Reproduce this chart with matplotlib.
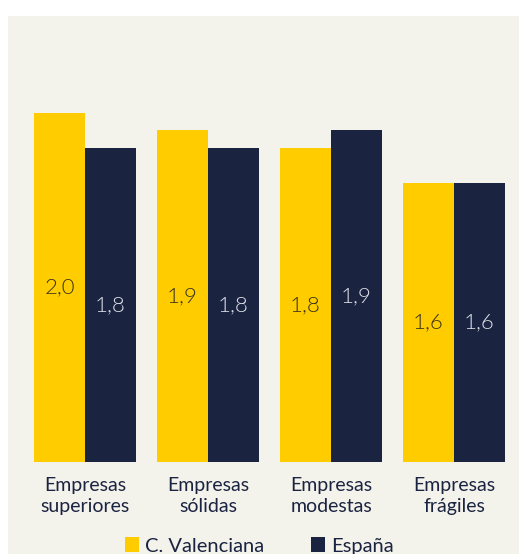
import matplotlib
matplotlib.use("Agg")
import matplotlib.pyplot as plt
from matplotlib.patches import Rectangle, Patch

plt.rcParams['font.family'] = ['Lato', 'DejaVu Sans']

categories = ["Empresas\nsuperiores", "Empresas\nsólidas", "Empresas\nmodestas", "Empresas\nfrágiles"]
valenciana = [2.0, 1.9, 1.8, 1.6]
espana = [1.8, 1.8, 1.9, 1.6]
series_names = ["C. Valenciana", "España"]

yellow = "#FFCC00"
navy = "#1A2340"
panel = "#F3F2EB"

fig = plt.figure(figsize=(5.19, 5.54), dpi=100)
# beige panel behind the chart
fig.patches.append(Rectangle((8 / 519, 0), 1, 1 - 16 / 554, transform=fig.transFigure,
                             facecolor=panel, edgecolor="none", zorder=-10))

ax = fig.add_axes([23.5 / 519, 92 / 554, 492 / 519, 446 / 554])
ax.set_facecolor("none")

x = list(range(len(categories)))
w = 51 / 123
b1 = ax.bar([i - w / 2 for i in x], valenciana, width=w, color=yellow)
b2 = ax.bar([i + w / 2 for i in x], espana, width=w, color=navy)

ax.bar_label(b1, labels=[f"{v:.1f}".replace(".", ",") for v in valenciana],
             label_type="center", color="#3B3418", fontsize=16, fontweight=300)
ax.bar_label(b2, labels=[f"{v:.1f}".replace(".", ",") for v in espana],
             label_type="center", color="#DDE0E8", fontsize=16, fontweight=300)

ax.set_xlim(-0.5, 3.5)
ax.set_ylim(0, 446 / 174.5)
ax.set_xticks(x, categories, fontsize=14, color=navy, linespacing=1.3)
ax.tick_params(axis="x", length=0, pad=11)
ax.set_yticks([])
for s in ax.spines.values():
    s.set_visible(False)

handles = [Patch(facecolor=yellow), Patch(facecolor=navy)]
fig.legend(handles, series_names, loc="center", bbox_to_anchor=(0.5, 8 / 554), ncol=2,
           frameon=False, fontsize=14.5, handlelength=0.7, handleheight=0.7,
           handletextpad=0.3, columnspacing=2.3, labelcolor=navy)

fig.savefig("out.png", dpi=100)
